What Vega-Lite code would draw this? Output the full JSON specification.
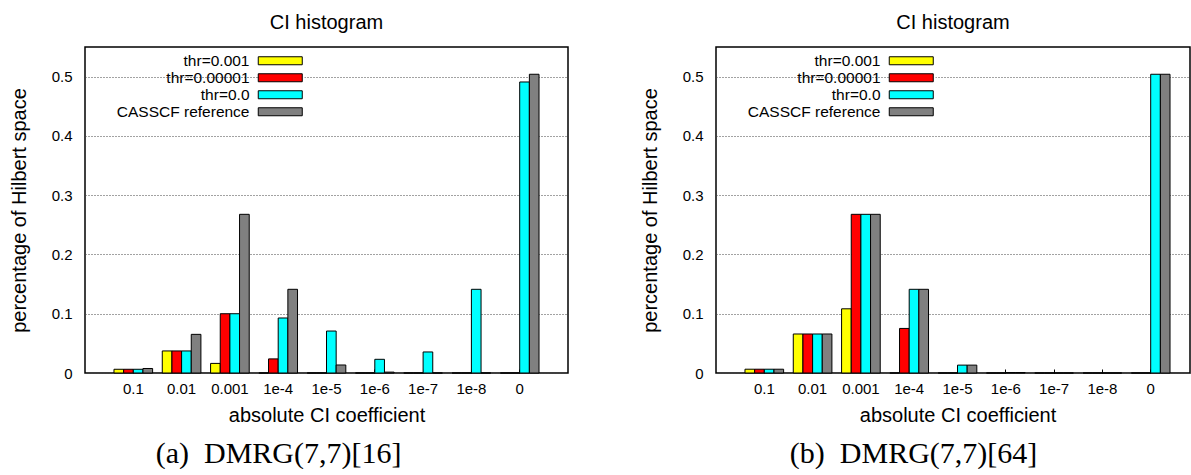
{
  "$schema": "https://vega.github.io/schema/vega-lite/v6.json",
  "padding": {"left": 8, "top": 12, "right": 0, "bottom": 0},
  "data": {"values": [
    {"panel": "a", "coef": "0.1", "series": "thr=0.001", "value": 0.0063},
    {"panel": "a", "coef": "0.1", "series": "thr=0.00001", "value": 0.0063},
    {"panel": "a", "coef": "0.1", "series": "thr=0.0", "value": 0.0063},
    {"panel": "a", "coef": "0.1", "series": "CASSCF reference", "value": 0.0076},
    {"panel": "a", "coef": "0.01", "series": "thr=0.001", "value": 0.0372},
    {"panel": "a", "coef": "0.01", "series": "thr=0.00001", "value": 0.0372},
    {"panel": "a", "coef": "0.01", "series": "thr=0.0", "value": 0.0372},
    {"panel": "a", "coef": "0.01", "series": "CASSCF reference", "value": 0.0652},
    {"panel": "a", "coef": "0.001", "series": "thr=0.001", "value": 0.0162},
    {"panel": "a", "coef": "0.001", "series": "thr=0.00001", "value": 0.1},
    {"panel": "a", "coef": "0.001", "series": "thr=0.0", "value": 0.1},
    {"panel": "a", "coef": "0.001", "series": "CASSCF reference", "value": 0.2677},
    {"panel": "a", "coef": "1e-4", "series": "thr=0.001", "value": 0},
    {"panel": "a", "coef": "1e-4", "series": "thr=0.00001", "value": 0.0238},
    {"panel": "a", "coef": "1e-4", "series": "thr=0.0", "value": 0.0928},
    {"panel": "a", "coef": "1e-4", "series": "CASSCF reference", "value": 0.1412},
    {"panel": "a", "coef": "1e-5", "series": "thr=0.001", "value": 0},
    {"panel": "a", "coef": "1e-5", "series": "thr=0.00001", "value": 0},
    {"panel": "a", "coef": "1e-5", "series": "thr=0.0", "value": 0.0708},
    {"panel": "a", "coef": "1e-5", "series": "CASSCF reference", "value": 0.0135},
    {"panel": "a", "coef": "1e-6", "series": "thr=0.001", "value": 0},
    {"panel": "a", "coef": "1e-6", "series": "thr=0.00001", "value": 0},
    {"panel": "a", "coef": "1e-6", "series": "thr=0.0", "value": 0.0231},
    {"panel": "a", "coef": "1e-6", "series": "CASSCF reference", "value": 0.0015},
    {"panel": "a", "coef": "1e-7", "series": "thr=0.001", "value": 0},
    {"panel": "a", "coef": "1e-7", "series": "thr=0.00001", "value": 0},
    {"panel": "a", "coef": "1e-7", "series": "thr=0.0", "value": 0.0355},
    {"panel": "a", "coef": "1e-7", "series": "CASSCF reference", "value": 0},
    {"panel": "a", "coef": "1e-8", "series": "thr=0.001", "value": 0},
    {"panel": "a", "coef": "1e-8", "series": "thr=0.00001", "value": 0},
    {"panel": "a", "coef": "1e-8", "series": "thr=0.0", "value": 0.1412},
    {"panel": "a", "coef": "1e-8", "series": "CASSCF reference", "value": 0},
    {"panel": "a", "coef": "0", "series": "thr=0.001", "value": 0},
    {"panel": "a", "coef": "0", "series": "thr=0.00001", "value": 0},
    {"panel": "a", "coef": "0", "series": "thr=0.0", "value": 0.491},
    {"panel": "a", "coef": "0", "series": "CASSCF reference", "value": 0.504},
    {"panel": "b", "coef": "0.1", "series": "thr=0.001", "value": 0.0064},
    {"panel": "b", "coef": "0.1", "series": "thr=0.00001", "value": 0.0064},
    {"panel": "b", "coef": "0.1", "series": "thr=0.0", "value": 0.0064},
    {"panel": "b", "coef": "0.1", "series": "CASSCF reference", "value": 0.0064},
    {"panel": "b", "coef": "0.01", "series": "thr=0.001", "value": 0.0658},
    {"panel": "b", "coef": "0.01", "series": "thr=0.00001", "value": 0.0658},
    {"panel": "b", "coef": "0.01", "series": "thr=0.0", "value": 0.0658},
    {"panel": "b", "coef": "0.01", "series": "CASSCF reference", "value": 0.0658},
    {"panel": "b", "coef": "0.001", "series": "thr=0.001", "value": 0.1083},
    {"panel": "b", "coef": "0.001", "series": "thr=0.00001", "value": 0.2677},
    {"panel": "b", "coef": "0.001", "series": "thr=0.0", "value": 0.2677},
    {"panel": "b", "coef": "0.001", "series": "CASSCF reference", "value": 0.2677},
    {"panel": "b", "coef": "1e-4", "series": "thr=0.001", "value": 0},
    {"panel": "b", "coef": "1e-4", "series": "thr=0.00001", "value": 0.0752},
    {"panel": "b", "coef": "1e-4", "series": "thr=0.0", "value": 0.1412},
    {"panel": "b", "coef": "1e-4", "series": "CASSCF reference", "value": 0.1412},
    {"panel": "b", "coef": "1e-5", "series": "thr=0.001", "value": 0},
    {"panel": "b", "coef": "1e-5", "series": "thr=0.00001", "value": 0},
    {"panel": "b", "coef": "1e-5", "series": "thr=0.0", "value": 0.0133},
    {"panel": "b", "coef": "1e-5", "series": "CASSCF reference", "value": 0.0133},
    {"panel": "b", "coef": "1e-6", "series": "thr=0.001", "value": 0},
    {"panel": "b", "coef": "1e-6", "series": "thr=0.00001", "value": 0},
    {"panel": "b", "coef": "1e-6", "series": "thr=0.0", "value": 0.0008},
    {"panel": "b", "coef": "1e-6", "series": "CASSCF reference", "value": 0.0008},
    {"panel": "b", "coef": "1e-7", "series": "thr=0.001", "value": 0},
    {"panel": "b", "coef": "1e-7", "series": "thr=0.00001", "value": 0},
    {"panel": "b", "coef": "1e-7", "series": "thr=0.0", "value": 0},
    {"panel": "b", "coef": "1e-7", "series": "CASSCF reference", "value": 0},
    {"panel": "b", "coef": "1e-8", "series": "thr=0.001", "value": 0},
    {"panel": "b", "coef": "1e-8", "series": "thr=0.00001", "value": 0},
    {"panel": "b", "coef": "1e-8", "series": "thr=0.0", "value": 0},
    {"panel": "b", "coef": "1e-8", "series": "CASSCF reference", "value": 0},
    {"panel": "b", "coef": "0", "series": "thr=0.001", "value": 0},
    {"panel": "b", "coef": "0", "series": "thr=0.00001", "value": 0},
    {"panel": "b", "coef": "0", "series": "thr=0.0", "value": 0.504},
    {"panel": "b", "coef": "0", "series": "CASSCF reference", "value": 0.504}
  ]},
  "hconcat": [
    {
      "title": {"text": "(a)\u00a0 DMRG(7,7)[16]", "orient": "bottom", "anchor": "middle", "frame": "bounds", "font": "Liberation Serif", "fontSize": 30, "fontWeight": "normal", "color": "black", "offset": 13, "dx": -10},
      "resolve": {"legend": {"color": "independent"}},
      "vconcat": [
        {
          "title": {"text": "CI histogram", "fontSize": 20, "fontWeight": "normal", "font": "Liberation Sans", "color": "black", "offset": 14},
          "width": 483,
          "height": 326,
          "transform": [{"filter": "datum.panel == 'a'"}],
          "mark": {"type": "bar", "stroke": "black", "strokeWidth": 1, "opacity": 1},
          "encoding": {
            "x": {"field": "coef", "type": "nominal", "sort": ["0.1", "0.01", "0.001", "1e-4", "1e-5", "1e-6", "1e-7", "1e-8", "0"],
                  "scale": {"paddingInner": 0.2, "paddingOuter": 0.6},
                  "axis": {"title": "absolute CI coefficient", "labelAngle": 0, "domain": false, "ticks": true, "tickSize": -4, "tickColor": "black", "labelPadding": 12, "titlePadding": 9, "grid": false}},
            "xOffset": {"field": "series", "type": "nominal", "sort": ["thr=0.001", "thr=0.00001", "thr=0.0", "CASSCF reference"], "scale": {"paddingInner": 0, "paddingOuter": 0}},
            "y": {"field": "value", "type": "quantitative", "scale": {"domain": [0, 0.55], "nice": false},
                  "axis": {"title": "percentage of Hilbert space", "values": [0, 0.1, 0.2, 0.3, 0.4, 0.5], "format": "~g", "ticks": false, "domain": false, "labelPadding": 13, "titlePadding": 22, "grid": true, "gridColor": "#444", "gridDash": [1, 2], "gridWidth": 1}},
            "color": {"field": "series", "type": "nominal",
                      "scale": {"domain": ["thr=0.001", "thr=0.00001", "thr=0.0", "CASSCF reference"], "range": ["#ffff00", "#ff0000", "#00ffff", "#808080"]},
                      "legend": {"orient": "none", "legendX": 187.5, "legendY": 6, "title": null, "symbolType": "M-5.5,-1H5.5V1H-5.5Z", "symbolSize": 64, "symbolStrokeColor": "black", "symbolStrokeWidth": 1, "symbolOpacity": 1, "labelAlign": "right", "labelOffset": -38.5, "labelFontSize": 15.5, "labelFont": "Liberation Sans", "labelColor": "black", "labelLimit": 300, "rowPadding": 0, "padding": 0, "fillColor": "white"}}
          }
        }
      ]
    },
    {
      "title": {"text": "(b)\u00a0 DMRG(7,7)[64]", "orient": "bottom", "anchor": "middle", "frame": "bounds", "font": "Liberation Serif", "fontSize": 30, "fontWeight": "normal", "color": "black", "offset": 13, "dx": -6},
      "resolve": {"legend": {"color": "independent"}},
      "vconcat": [
        {
          "title": {"text": "CI histogram", "fontSize": 20, "fontWeight": "normal", "font": "Liberation Sans", "color": "black", "offset": 14},
          "width": 474,
          "height": 326,
          "transform": [{"filter": "datum.panel == 'b'"}],
          "mark": {"type": "bar", "stroke": "black", "strokeWidth": 1, "opacity": 1},
          "encoding": {
            "x": {"field": "coef", "type": "nominal", "sort": ["0.1", "0.01", "0.001", "1e-4", "1e-5", "1e-6", "1e-7", "1e-8", "0"],
                  "scale": {"paddingInner": 0.2, "paddingOuter": 0.6, "range": [0, 483]},
                  "axis": {"title": "absolute CI coefficient", "labelAngle": 0, "domain": false, "ticks": true, "tickSize": -4, "tickColor": "black", "labelPadding": 12, "titlePadding": 9, "grid": false}},
            "xOffset": {"field": "series", "type": "nominal", "sort": ["thr=0.001", "thr=0.00001", "thr=0.0", "CASSCF reference"], "scale": {"paddingInner": 0, "paddingOuter": 0}},
            "y": {"field": "value", "type": "quantitative", "scale": {"domain": [0, 0.55], "nice": false},
                  "axis": {"title": "percentage of Hilbert space", "values": [0, 0.1, 0.2, 0.3, 0.4, 0.5], "format": "~g", "ticks": false, "domain": false, "labelPadding": 13, "titlePadding": 22, "grid": true, "gridColor": "#444", "gridDash": [1, 2], "gridWidth": 1}},
            "color": {"field": "series", "type": "nominal",
                      "scale": {"domain": ["thr=0.001", "thr=0.00001", "thr=0.0", "CASSCF reference"], "range": ["#ffff00", "#ff0000", "#00ffff", "#808080"]},
                      "legend": {"orient": "none", "legendX": 187.5, "legendY": 6, "title": null, "symbolType": "M-5.5,-1H5.5V1H-5.5Z", "symbolSize": 64, "symbolStrokeColor": "black", "symbolStrokeWidth": 1, "symbolOpacity": 1, "labelAlign": "right", "labelOffset": -38.5, "labelFontSize": 15.5, "labelFont": "Liberation Sans", "labelColor": "black", "labelLimit": 300, "rowPadding": 0, "padding": 0, "fillColor": "white"}}
          }
        }
      ]
    }
  ],
  "spacing": 70,
  "resolve": {"legend": {"color": "independent"}},
  "config": {
    "font": "Liberation Sans",
    "background": "white",
    "view": {"stroke": "black", "strokeWidth": 1.5},
    "axis": {"labelFont": "Liberation Sans", "labelFontSize": 15, "labelColor": "black", "titleFont": "Liberation Sans", "titleFontSize": 20, "titleFontWeight": "normal", "titleColor": "black"},
    "concat": {"spacing": 0}
  }
}
